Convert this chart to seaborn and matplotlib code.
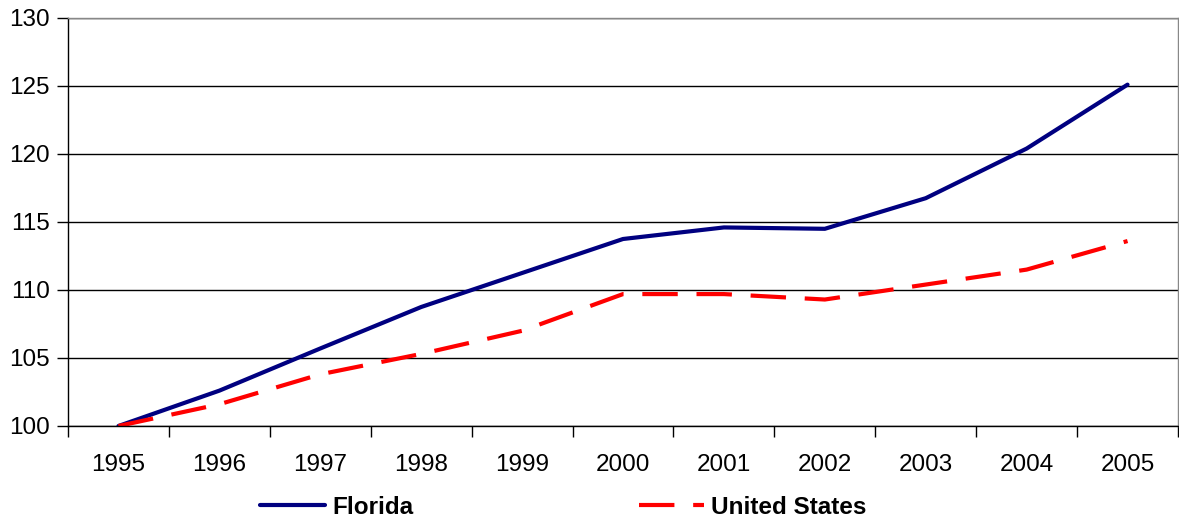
import pandas as pd
import matplotlib.pyplot as plt
import seaborn as sns
from matplotlib.lines import Line2D

years = [1995, 1996, 1997, 1998, 1999, 2000, 2001, 2002, 2003, 2004, 2005]
florida = [100.0, 102.6, 105.7, 108.75, 111.25, 113.75, 114.6, 114.5, 116.75, 120.4, 125.1]
united_states = [100.0, 101.6, 103.8, 105.3, 107.0, 109.7, 109.7, 109.3, 110.4, 111.5, 113.6]

df = pd.DataFrame({
    "year": years * 2,
    "value": florida + united_states,
    "region": ["Florida"] * len(years) + ["United States"] * len(years),
})

sns.set_style("white")
plt.rcParams["font.family"] = ["Liberation Sans", "DejaVu Sans"]
plt.rcParams["text.color"] = "#000000"

fig = plt.figure(figsize=(11.79, 5.2), dpi=100)
ax = fig.add_axes([68 / 1179, 1 - 426 / 520, 1110 / 1179, 408 / 520])

colors = {"Florida": "#000080", "United States": "#FF0000"}
dashes = {"Florida": "", "United States": (8.5, 4.5)}
sns.lineplot(data=df, x="year", y="value", hue="region", style="region",
             palette=colors, dashes=dashes, linewidth=3, ax=ax, legend=False)

ax.set_xlim(1994.5, 2005.5)
ax.set_ylim(100, 130)
ax.set_yticks(range(100, 131, 5))
ax.set_xticks(years)
ax.set_xticks([y + 0.5 for y in [1994] + years], minor=True)
ax.tick_params(axis="x", which="major", bottom=True, length=0, pad=20,
               labelsize=17.5, labelcolor="#000000")
ax.tick_params(axis="x", which="minor", bottom=True, length=8, width=1, color="#000000", direction="out")
ax.tick_params(axis="y", left=True, length=8, width=1, color="#000000", direction="out",
               labelsize=17.5, labelcolor="#000000", pad=5)
ax.yaxis.grid(True, color="#000000", linewidth=1)
ax.set_axisbelow(True)
for side in ["left", "bottom"]:
    ax.spines[side].set_color("#000000")
    ax.spines[side].set_linewidth(1)
for side in ["top", "right"]:
    ax.spines[side].set_color("#888888")
    ax.spines[side].set_linewidth(1)
    ax.spines[side].set_visible(True)
ax.set_xlabel("")
ax.set_ylabel("")

handles = [
    Line2D([], [], color=colors["Florida"], linewidth=3),
    Line2D([], [], color=colors["United States"], linewidth=3, dashes=(8.5, 4.5)),
]
fig.legend(handles, ["Florida", "United States"], loc="center left",
           bbox_to_anchor=(238 / 1179, 13 / 520), ncol=2, frameon=False,
           prop={"weight": "bold", "size": 17.5}, handlelength=2.67,
           handletextpad=0.3, columnspacing=9.3)

fig.savefig("out.png", dpi=100)
